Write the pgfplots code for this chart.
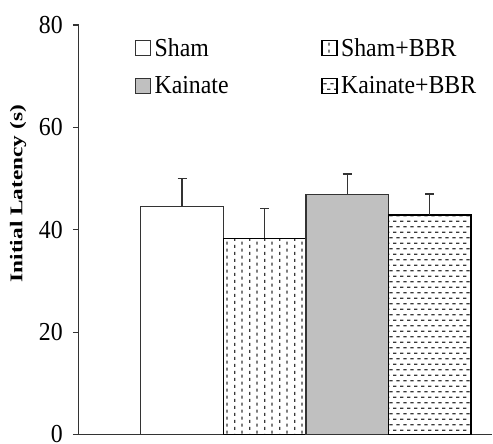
\documentclass[border=0pt]{standalone}
\usepackage{pgfplots}
\pgfplotsset{compat=1.18}
\usetikzlibrary{patterns}
\usepackage{fontspec}
\setmainfont[FakeStretch=0.92]{Liberation Serif}
\newfontfamily\labfont[FakeStretch=1.3]{Liberation Serif}

\definecolor{axisgray}{HTML}{333333}
\definecolor{edgegray}{HTML}{333333}
\definecolor{barfill}{HTML}{C0C0C0}
\definecolor{patgray}{HTML}{383838}

% short vertical dashes, staggered columns
\pgfdeclarepatternformonly{vdashes}{\pgfqpoint{0bp}{0bp}}{\pgfqpoint{14.6bp}{7.2bp}}{\pgfqpoint{14.6bp}{7.2bp}}{%
  \pgfsetlinewidth{1.3bp}
  \pgfpathmoveto{\pgfqpoint{1.8bp}{0.2bp}}\pgfpathlineto{\pgfqpoint{1.8bp}{3.6bp}}
  \pgfpathmoveto{\pgfqpoint{9.1bp}{3.7bp}}\pgfpathlineto{\pgfqpoint{9.1bp}{7.0bp}}
  \pgfusepath{stroke}}
% short horizontal dashes, staggered rows
\pgfdeclarepatternformonly{hdashes}{\pgfqpoint{0bp}{0bp}}{\pgfqpoint{7.3bp}{11bp}}{\pgfqpoint{7.3bp}{11bp}}{%
  \pgfsetlinewidth{1.4bp}
  \pgfpathmoveto{\pgfqpoint{0.1bp}{2.75bp}}\pgfpathlineto{\pgfqpoint{3.6bp}{2.75bp}}
  \pgfpathmoveto{\pgfqpoint{3.75bp}{8.25bp}}\pgfpathlineto{\pgfqpoint{7.2bp}{8.25bp}}
  \pgfusepath{stroke}}

\begin{document}
\begin{tikzpicture}
\begin{axis}[
  at={(0,0)}, anchor=south west,
  scale only axis, width=414bp, height=410bp,
  xmin=-1.25, xmax=3.76, ymin=0, ymax=80,
  axis x line*=bottom, axis y line*=left,
  axis line style={draw=axisgray, line width=1.1bp, -},
  xtick=\empty,
  ytick={0,20,40,60,80},
  tick align=outside, major tick length=6bp,
  tick style={draw=axisgray, line width=1.1bp},
  /pgf/number format/assume math mode=true,
  yticklabel style={font=\fontsize{26}{30}\selectfont, inner sep=0bp, xshift=-10bp},
  ylabel={\labfont\bfseries Initial Latency (s)},
  every axis y label/.style={at={(axis description cs:-0.147,0.588)}, rotate=90, anchor=center, font=\fontsize{18}{20}\selectfont},
  ybar, bar width=1, bar shift=0pt,
  every axis plot/.append style={draw=edgegray, line width=1.2bp},
  error bars/y dir=plus, error bars/y explicit,
  error bars/error bar style={draw=edgegray, line width=1.2bp},
  error bars/error mark options={rotate=90, mark size=4.5bp, line width=1.2bp, draw=edgegray},
  legend columns=2, legend cell align=left,
  legend style={at={(rel axis cs:0.135,0.973)}, anchor=north west, draw=none, fill=none, inner sep=0pt,
    font=\fontsize{26}{30}\selectfont, row sep=15bp, nodes={inner xsep=3.5bp, inner ysep=2bp},
    /tikz/every even column/.append style={column sep=89bp}},
  legend image code/.code={\draw[#1] (0bp,-7.5bp) rectangle (15bp,7.5bp);},
]
\addplot[fill=white, bar shift=0pt] coordinates {(0,44.5) +- (0,5.5)};
\addplot[pattern=vdashes, pattern color=patgray, draw=black, line width=1.6bp, bar shift=0pt] coordinates {(1,38.3) +- (0,5.9)};
\addplot[fill=barfill, bar shift=0pt] coordinates {(2,46.9) +- (0,4.0)};
\addplot[pattern=hdashes, pattern color=patgray, draw=black, line width=1.6bp, bar shift=0pt] coordinates {(3,42.9) +- (0,4.1)};
\legend{Sham, Sham+BBR, Kainate, Kainate+BBR}
\end{axis}
\path (-79bp,-8bp) rectangle (414bp,435bp);
\end{tikzpicture}
\end{document}
